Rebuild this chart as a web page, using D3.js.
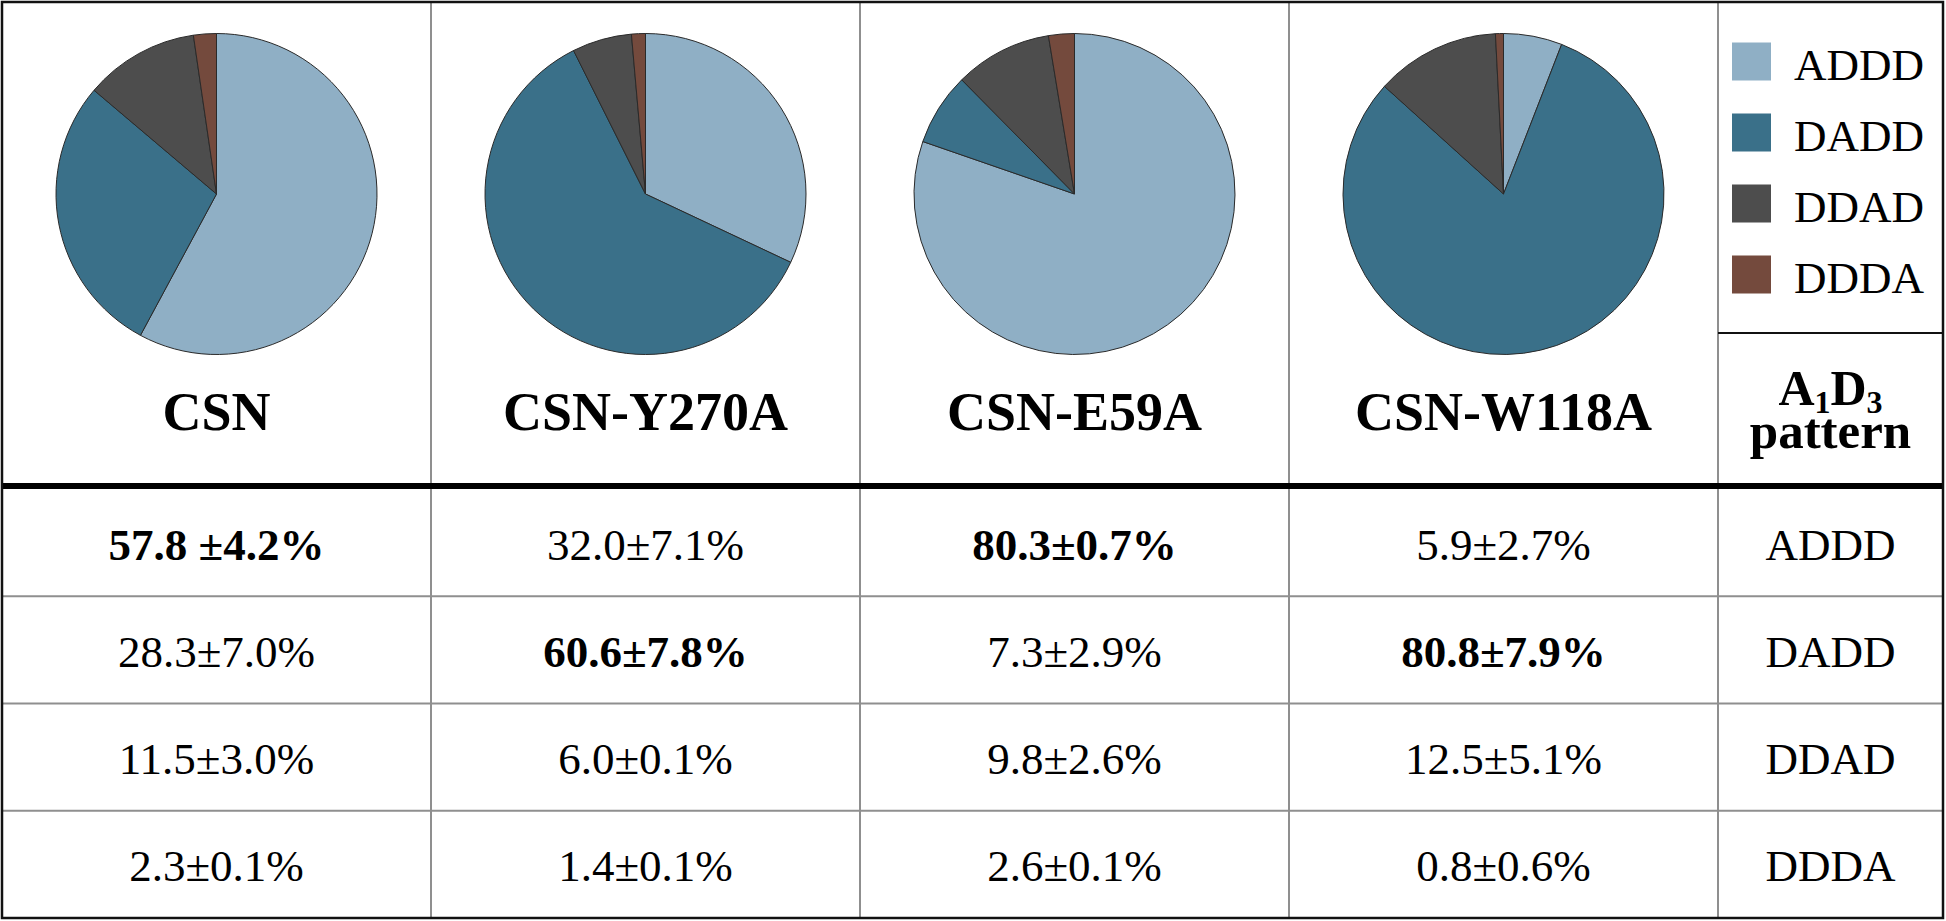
<!DOCTYPE html>
<html>
<head>
<meta charset="utf-8">
<script src="https://cdn.jsdelivr.net/npm/d3@7"></script>
<style>
  html, body { margin: 0; padding: 0; background: #fff; }
  svg { display: block; }
  text { font-family: "Liberation Serif", "Times New Roman", serif; fill: #000; }
</style>
</head>
<body>
<svg id="chart" width="1946" height="921"></svg>
<script>
// ---- data ----
const samples = ["CSN", "CSN-Y270A", "CSN-E59A", "CSN-W118A"];
const patterns = ["ADDD", "DADD", "DDAD", "DDDA"];
const colors = ["#8FAFC5", "#3A7089", "#4D4D4D", "#744A3D"];
// mean percentages, one array per sample, in pattern order
const valuesCSN   = [57.8, 28.3, 11.5, 2.3];
const valuesY270A = [32.0, 60.6, 6.0, 1.4];
const valuesE59A  = [80.3, 7.3, 9.8, 2.6];
const valuesW118A = [5.9, 80.8, 12.5, 0.8];
// cell labels as printed
const labelsCSN   = ["57.8 ±4.2%", "28.3±7.0%", "11.5±3.0%", "2.3±0.1%"];
const labelsY270A = ["32.0±7.1%", "60.6±7.8%", "6.0±0.1%", "1.4±0.1%"];
const labelsE59A  = ["80.3±0.7%", "7.3±2.9%", "9.8±2.6%", "2.6±0.1%"];
const labelsW118A = ["5.9±2.7%", "80.8±7.9%", "12.5±5.1%", "0.8±0.6%"];

const values = [valuesCSN, valuesY270A, valuesE59A, valuesW118A];
const labels = [labelsCSN, labelsY270A, labelsE59A, labelsW118A];

// ---- layout ----
const svg = d3.select("#chart");
const bLeft = 2, bRight = 1943, bTop = 2, bBottom = 918;
const colEnd = 1718;           // end of sample columns
const headerLine = 486;        // thick rule centre
const legendSep = 333;

const x = d3.scaleBand().domain(samples).range([bLeft, colEnd]).padding(0);
const y = d3.scaleBand().domain(patterns).range([489, bBottom]).padding(0);
const color = d3.scaleOrdinal().domain(patterns).range(colors);

const gridColor = "#8f8f8f";

// vertical dividers
svg.append("g").selectAll("line")
  .data(samples.slice(1).map(s => x(s)).concat([colEnd]))
  .join("line")
  .attr("x1", d => d).attr("x2", d => d)
  .attr("y1", bTop).attr("y2", bBottom)
  .attr("stroke", gridColor).attr("stroke-width", 2);

// horizontal row lines
svg.append("g").selectAll("line")
  .data(patterns.slice(1))
  .join("line")
  .attr("x1", bLeft).attr("x2", bRight)
  .attr("y1", d => y(d)).attr("y2", d => y(d))
  .attr("stroke", gridColor).attr("stroke-width", 2);

// legend / header separator in last column
svg.append("line")
  .attr("x1", colEnd).attr("x2", bRight)
  .attr("y1", legendSep).attr("y2", legendSep)
  .attr("stroke", "#111").attr("stroke-width", 2);

// thick header rule
svg.append("line")
  .attr("x1", bLeft).attr("x2", bRight)
  .attr("y1", headerLine).attr("y2", headerLine)
  .attr("stroke", "#000").attr("stroke-width", 6);

// outer border
svg.append("rect")
  .attr("x", bLeft).attr("y", bTop)
  .attr("width", bRight - bLeft).attr("height", bBottom - bTop)
  .attr("fill", "none").attr("stroke", "#111").attr("stroke-width", 2.5);

// ---- pies ----
const pie = d3.pie().sort(null).value(d => d.v);
const arc = d3.arc().innerRadius(0).outerRadius(160.5);

samples.forEach((s, i) => {
  const cx = x(s) + x.bandwidth() / 2;
  const g = svg.append("g").attr("transform", `translate(${cx},194)`);
  const data = patterns.map((p, j) => ({ p, v: values[i][j] }));
  g.selectAll("path")
    .data(pie(data))
    .join("path")
    .attr("d", arc)
    .attr("fill", d => color(d.data.p))
    .attr("stroke", "#2a2a2a")
    .attr("stroke-width", 1);

  svg.append("text")
    .attr("x", cx).attr("y", 430)
    .attr("text-anchor", "middle")
    .attr("font-size", 54).attr("font-weight", "bold")
    .text(s);
});

// ---- table body ----
samples.forEach((s, i) => {
  const cx = x(s) + x.bandwidth() / 2;
  const col = values[i];
  const maxV = d3.max(col);
  patterns.forEach((p, j) => {
    svg.append("text")
      .attr("x", cx)
      .attr("y", y(p) + y.bandwidth() / 2 + 17)
      .attr("text-anchor", "middle")
      .attr("font-size", 45)
      .attr("font-weight", col[j] === maxV ? "bold" : "normal")
      .text(labels[i][j]);
  });
});

// pattern column
const lastCx = (colEnd + bRight) / 2;
patterns.forEach(p => {
  svg.append("text")
    .attr("x", lastCx)
    .attr("y", y(p) + y.bandwidth() / 2 + 17)
    .attr("text-anchor", "middle")
    .attr("font-size", 45)
    .text(p);
});

// header of pattern column: A1D3 pattern
const h = svg.append("text")
  .attr("x", lastCx).attr("y", 405)
  .attr("text-anchor", "middle")
  .attr("font-size", 50).attr("font-weight", "bold");
h.append("tspan").text("A");
h.append("tspan").attr("font-size", 32).attr("dy", 8).text("1");
h.append("tspan").attr("dy", -8).text("D");
h.append("tspan").attr("font-size", 32).attr("dy", 8).text("3");
svg.append("text")
  .attr("x", lastCx).attr("y", 448)
  .attr("text-anchor", "middle")
  .attr("font-size", 51).attr("font-weight", "bold")
  .text("pattern");

// ---- legend ----
const legend = svg.append("g").attr("transform", "translate(1732,0)");
const ly = d3.scalePoint().domain(patterns).range([42.5, 255.5]);
legend.selectAll("rect")
  .data(patterns)
  .join("rect")
  .attr("x", 0).attr("y", d => ly(d))
  .attr("width", 39).attr("height", 38)
  .attr("fill", d => color(d));
legend.selectAll("text")
  .data(patterns)
  .join("text")
  .attr("x", 62).attr("y", d => ly(d) + 37)
  .attr("font-size", 45)
  .text(d => d);
</script>
</body>
</html>
